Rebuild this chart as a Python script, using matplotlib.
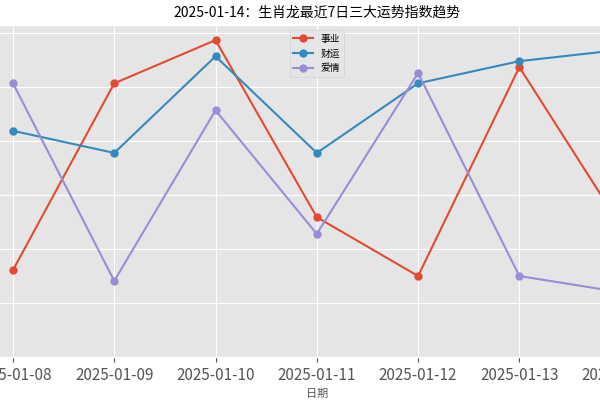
import matplotlib
matplotlib.use("Agg")
import matplotlib.pyplot as plt

plt.style.use("ggplot")
plt.rcParams["font.family"] = ["Noto Sans CJK SC", "DejaVu Sans"]

dates = ["2025-01-08", "2025-01-09", "2025-01-10", "2025-01-11", "2025-01-12", "2025-01-13", "2025-01-14"]
career = [56.1, 90.7, 98.7, 65.9, 55.0, 93.7, 64.3]
wealth = [81.9, 77.8, 95.7, 77.8, 90.7, 94.8, 96.9]
love = [90.7, 54.1, 85.7, 62.8, 92.6, 55.0, 52.0]

fig = plt.figure(figsize=(6, 4), dpi=100)
ax = fig.add_axes([-0.029, 0.1075, 1.114, 0.83])
x = range(len(dates))
ax.plot(x, career, marker="o", markersize=5, label="事业")
ax.plot(x, wealth, marker="o", markersize=5, label="财运")
ax.plot(x, love, marker="o", markersize=5, label="爱情")
ax.set_xticks(list(x))
ax.set_xticklabels(dates, fontsize=11)
ax.set_ylim(40, 101.5)
ax.set_xlabel("日期", fontsize=8)
ax.set_title("2025-01-14：生肖龙最近7日三大运势指数趋势", fontsize=10)
ax.legend(loc="upper center", fontsize=7)
fig.savefig("out.png", dpi=100)
